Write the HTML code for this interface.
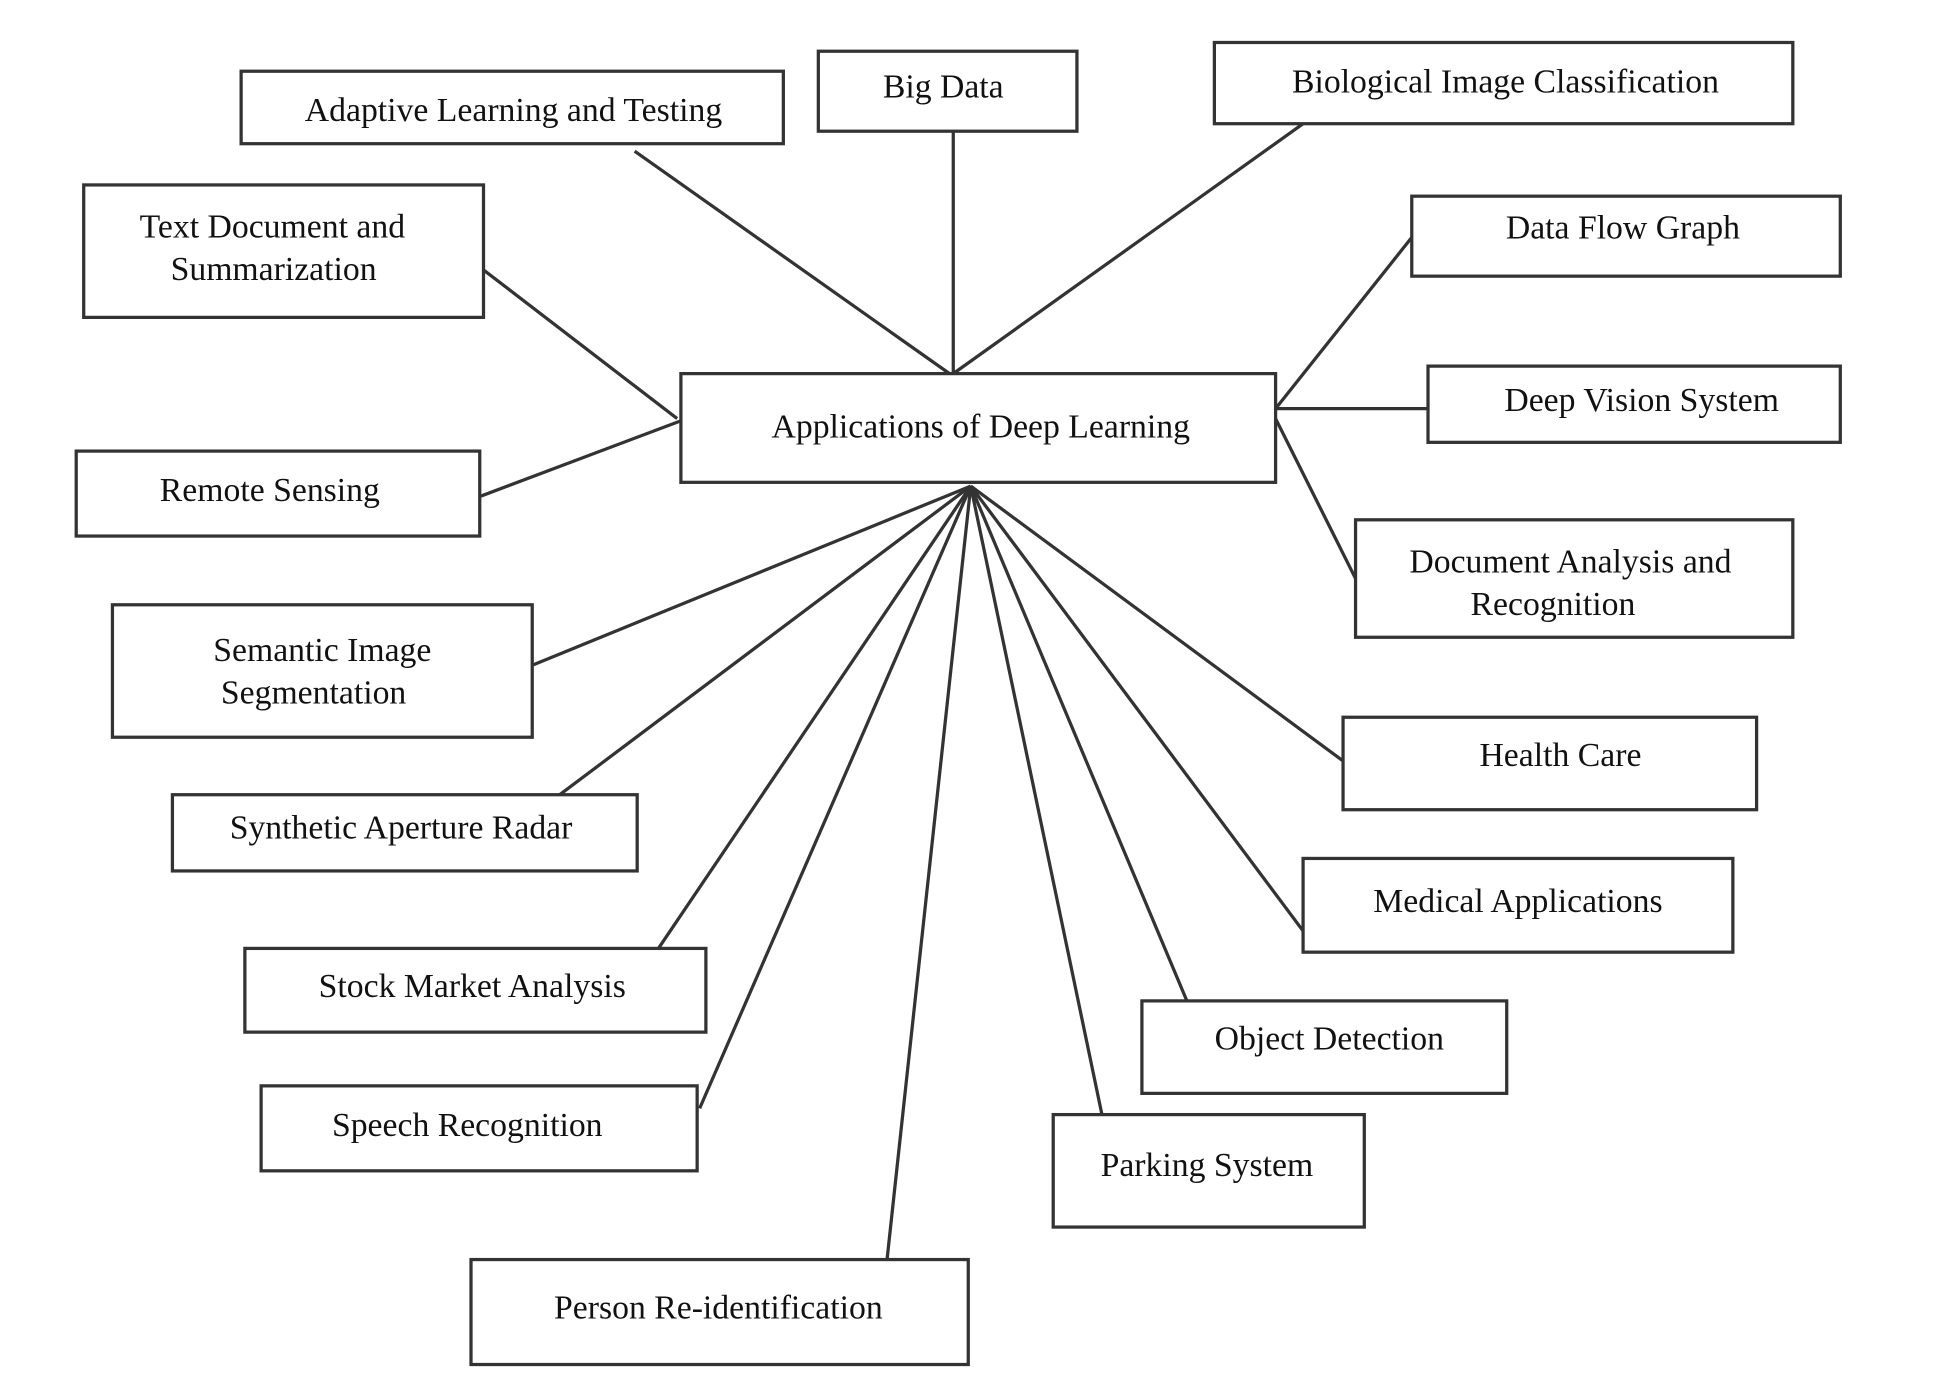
<!DOCTYPE html>
<html><head><meta charset="utf-8"><style>
html,body{margin:0;padding:0;background:#fff;}
svg{display:block;}
text{font-family:"Liberation Serif",serif;font-size:27px;fill:#111;text-anchor:middle;}
</style></head><body>
<svg width="1944" height="1392" viewBox="0 0 1556 1114" preserveAspectRatio="none" xmlns="http://www.w3.org/2000/svg">
<g stroke="#333" stroke-width="2.6" fill="none">
<line x1="508" y1="121" x2="760" y2="299"/>
<line x1="763" y1="105" x2="763" y2="299"/>
<line x1="1043" y1="99" x2="763" y2="299"/>
<line x1="387" y1="216" x2="542" y2="335"/>
<line x1="1130" y1="190" x2="1021" y2="327"/>
<line x1="1019" y1="327" x2="1143" y2="327"/>
<line x1="1021" y1="335" x2="1085" y2="463"/>
<line x1="385" y1="397" x2="547" y2="336"/>
<line x1="777" y1="389" x2="427" y2="532"/>
<line x1="777" y1="389" x2="448" y2="636"/>
<line x1="777" y1="389" x2="527" y2="759"/>
<line x1="777" y1="389" x2="560" y2="887"/>
<line x1="777" y1="389" x2="710" y2="1008"/>
<line x1="777" y1="389" x2="882" y2="892"/>
<line x1="777" y1="389" x2="950" y2="801"/>
<line x1="777" y1="389" x2="1043" y2="745"/>
<line x1="777" y1="389" x2="1075" y2="609"/>
</g>
<g stroke="#333" stroke-width="2.6" fill="#fff">
<rect x="193" y="57" width="434" height="58"/>
<rect x="655" y="41" width="207" height="64"/>
<rect x="972" y="34" width="463" height="65"/>
<rect x="67" y="148" width="320" height="106"/>
<rect x="1130" y="157" width="343" height="64"/>
<rect x="545" y="299" width="476" height="87"/>
<rect x="1143" y="293" width="330" height="61"/>
<rect x="61" y="361" width="323" height="68"/>
<rect x="1085" y="416" width="350" height="94"/>
<rect x="90" y="484" width="336" height="106"/>
<rect x="1075" y="574" width="331" height="74"/>
<rect x="138" y="636" width="372" height="61"/>
<rect x="1043" y="687" width="344" height="75"/>
<rect x="196" y="759" width="369" height="67"/>
<rect x="914" y="801" width="292" height="74"/>
<rect x="209" y="869" width="349" height="68"/>
<rect x="843" y="892" width="249" height="90"/>
<rect x="377" y="1008" width="398" height="84"/>
</g>
<text x="411" y="97">Adaptive Learning and Testing</text>
<text x="755" y="78">Big Data</text>
<text x="1205" y="74">Biological Image Classification</text>
<text x="218" y="190">Text Document and</text>
<text x="219" y="224">Summarization</text>
<text x="1299" y="191">Data Flow Graph</text>
<text x="785" y="350">Applications of Deep Learning</text>
<text x="1314" y="329">Deep Vision System</text>
<text x="216" y="401">Remote Sensing</text>
<text x="1257" y="458">Document Analysis and</text>
<text x="1243" y="492">Recognition</text>
<text x="258" y="529">Semantic Image</text>
<text x="251" y="563">Segmentation</text>
<text x="1249" y="613">Health Care</text>
<text x="321" y="671">Synthetic Aperture Radar</text>
<text x="1215" y="730">Medical Applications</text>
<text x="378" y="798">Stock Market Analysis</text>
<text x="1064" y="840">Object Detection</text>
<text x="374" y="909">Speech Recognition</text>
<text x="966" y="941">Parking System</text>
<text x="575" y="1055">Person Re-identification</text>
</svg>
</body></html>
